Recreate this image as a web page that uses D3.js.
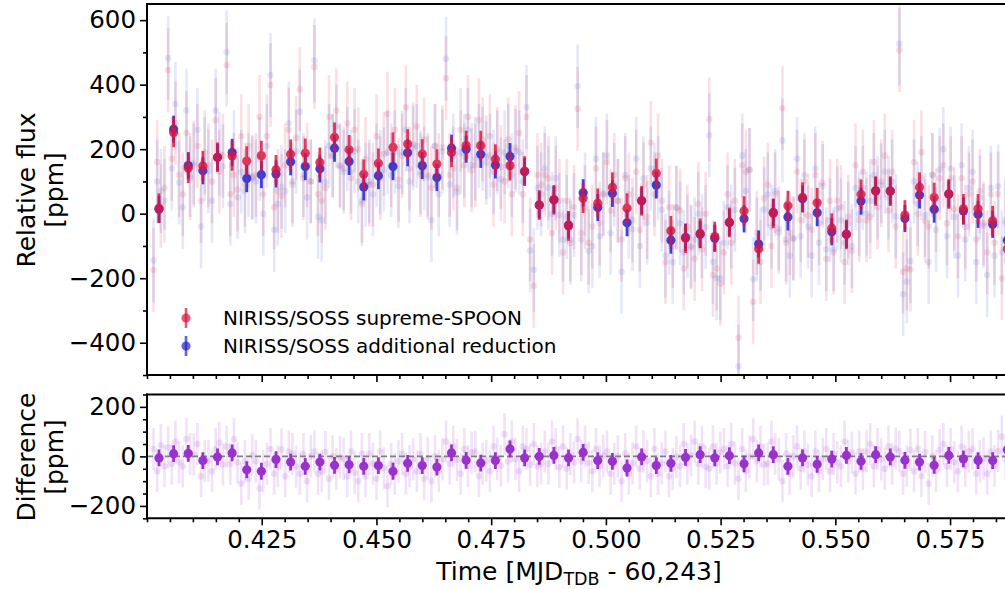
<!DOCTYPE html>
<html>
<head>
<meta charset="utf-8">
<script src="https://cdn.jsdelivr.net/npm/d3@7"></script>
<style>
  html, body { margin: 0; padding: 0; background: #fff; }
  svg { display: block; font-family: "DejaVu Sans", sans-serif; }
</style>
</head>
<body>
<svg id="chart" width="1005" height="589"></svg>
<script>
// time grid of the binned points (days since MJD 60243)
const binStart = 0.402615;
const binStep = 0.0031872;

// binned light curves [ppm]
const redBin = [17, 252, 141, 148, 175, 179, 163, 180, 136, 184, 187, 159, 237, 198, 122, 156, 206, 216, 185, 154,
  190, 211, 211, 169, 149, 132, 27, 43, -38, 48, 32, 82, 17, 40, 125, -53, -76, -61, -71, -27,
  8, -109, 1, 25, 51, 34, -45, -64, 60, 70, 70, -4, 82, 50, 61, 15, 15, -22, -109];
const blueBin = [14, 262, 149, 133, 175, 190, 109, 121, 123, 161, 146, 139, 203, 162, 83, 118, 146, 189, 149, 112,
  203, 200, 184, 151, 177, 130, 27, 43, -35, 65, 19, 63, -28, 40, 89, -82, -74, -64, -76, -27,
  -16, -94, 4, -10, 46, 3, -56, -64, 39, 71, 70, -15, 58, 14, 61, 8, -2, -33, -82];
const diffBin = [-6, 11, 12, -17, -2, 14, -54, -60, -13, -23, -40, -23, -36, -34, -40, -37, -60, -28, -37, -43,
  14, -16, -27, -17, 30, -6, 0, 4, -6, 16, -17, -20, -47, -2, -37, -28, -4, 7, -6, 3,
  -30, 14, 7, -40, -6, -32, -11, 4, -20, 7, -2, -16, -23, -36, 4, -10, -17, -17, 27];

// unbinned points, four per bin [ppm]
const rawRed = [
  [-175, 160, 25, 80], [445, 170, 280, 120], [60, 250, 110, 150], [210, 40, 190, 150], [100, 290, 130, 180],
  [461, 60, 120, 75], [240, 90, 210, 110], [120, 300, 60, 240], [399, 20, 70, 55], [150, 260, 90, 235],
  [386, 110, 150, 100], [455, 60, 40, 80], [300, 180, 320, 150], [140, 280, 110, 260], [200, 30, 170, 90],
  [90, 240, 110, 185], [310, 150, 260, 105], [180, 330, 140, 215], [270, 120, 230, 120], [80, 210, 120, 205],
  [420, 120, 140, 80], [260, 150, 300, 135], [150, 290, 230, 175], [240, 90, 200, 145], [100, 230, 60, 205],
  [250, 60, 300, -80], [-224, 120, 90, 120], [110, -60, 80, 40], [-120, 40, -90, 20], [325, -60, 20, -90],
  [-40, 140, -30, 60], [160, 10, 120, 40], [-80, 110, 60, -20], [130, -50, 90, -10], [220, 60, 180, 40],
  [-150, 20, -100, 20], [10, -170, -40, -105], [-140, 30, -110, 0], [293, -190, -170, -217], [-120, 60, -90, 40],
  [-384, 150, 130, 136], [-273, -60, -150, 47], [90, -100, 60, -46], [327, -90, -60, -77], [130, -20, 100, -6],
  [-50, 120, -30, 96], [-140, 40, -120, 40], [20, -150, -10, -116], [150, -20, 130, -20], [-10, 160, 20, 100],
  [180, 10, 130, -40], [507, -180, -170, -173], [160, 0, 190, -22], [-40, 120, 10, 110], [150, -30, 110, 14],
  [-70, 110, -40, 60], [100, -80, 70, -30], [-120, 60, -90, 62], [-200, -20, -180, -36]
];
const rawDiff = [
  [30, -60, 45, -40], [37, -30, 60, -23], [-40, 70, 10, 8], [50, -80, -20, -18], [-60, 30, 55, -33],
  [40, -30, 70, -24], [-110, -20, -90, 4], [-20, -130, -60, -30], [30, -70, -40, 28], [-80, 20, 10, -42],
  [-70, 10, -100, 0], [20, -70, -60, 18], [-90, 0, -50, -4], [-10, -80, 20, -66], [-100, 10, -80, 10],
  [-30, -90, 20, -48], [-120, -30, -70, -20], [10, -70, -40, -12], [-60, 10, -90, -8], [-100, 0, -60, -12],
  [60, -30, 40, -14], [-70, 30, -40, 16], [20, -80, -30, -18], [-60, 40, -10, -38], [90, -20, 60, -10],
  [-60, 40, 30, -34], [50, -40, -30, 20], [-30, 60, 30, -44], [40, -50, 10, -24], [70, -20, 40, -26],
  [-60, 30, -40, 2], [20, -70, -30, 0], [-100, 10, -70, -28], [40, -50, 20, -18], [-80, 30, -70, -28],
  [20, -80, -50, -2], [-40, 50, -30, 4], [60, -30, 40, -42], [-50, 40, -30, 16], [30, -40, 50, -28],
  [-90, 30, -60, 0], [70, -20, 40, -34], [-30, 60, 10, -12], [-100, 10, -70, 0], [40, -50, 20, -34],
  [-80, 20, -60, -10], [30, -60, 10, -24], [-40, 60, -20, 16], [-70, 20, -50, 20], [50, -40, 30, -12],
  [-50, 40, -30, 32], [20, -70, -40, 26], [-60, 30, -80, 18], [-110, 0, -60, 26], [50, -40, 30, -24],
  [-60, 40, -40, 20], [30, -70, -20, -8], [-70, 20, -40, 22], [80, -10, 60, -22]
];

const binErrRed = 46, binErrBlue = 42, binErrDiff = 34;
const rawErrFlux = 130, rawErrDiff = 85;

const xMajor = [0.425, 0.450, 0.475, 0.500, 0.525, 0.550, 0.575];
const fluxTicks = [-400, -200, 0, 200, 400, 600];
const diffTicks = [-200, 0, 200];

const red = "#dc143c", blue = "#2323cc", purple = "#9932cc";

// flatten into point records
const bins = redBin.map((v, i) => ({
  t: binStart + i * binStep, red: v, blue: blueBin[i], diff: diffBin[i]
}));
const raw = [];
rawRed.forEach((grp, i) => {
  grp.forEach((v, k) => {
    const t = binStart + i * binStep + (k - 1.5) * binStep / 4;
    const d = rawDiff[i][k];
    raw.push({ t: t, red: v, blue: v + d, diff: d });
  });
});

const svg = d3.select("#chart");
const left = 147, right = 1010;

const x = d3.scaleLinear().domain([0.400, 0.58806]).range([left, right]);
const yTop = d3.scaleLinear().domain([-500, 650]).range([375, 4]);
const yBot = d3.scaleLinear().domain([-250, 250]).range([518.3, 394.5]);

const defs = svg.append("defs");
defs.append("clipPath").attr("id", "clipTop")
  .append("rect").attr("x", left).attr("y", 4).attr("width", right - left).attr("height", 371);
defs.append("clipPath").attr("id", "clipBot")
  .append("rect").attr("x", left).attr("y", 394.5).attr("width", right - left).attr("height", 123.8);

function errorbars(g, data, key, y, err, color, opacity, r, sw) {
  const s = g.append("g").attr("opacity", opacity);
  s.selectAll("line").data(data).enter().append("line")
    .attr("x1", d => x(d.t)).attr("x2", d => x(d.t))
    .attr("y1", d => y(d[key] - err)).attr("y2", d => y(d[key] + err))
    .attr("stroke", color).attr("stroke-width", sw);
  s.selectAll("circle").data(data).enter().append("circle")
    .attr("cx", d => x(d.t)).attr("cy", d => y(d[key]))
    .attr("r", r).attr("fill", color);
}

// faint unbinned points drawn with per-mark opacity so overlaps build up
function faint(g, data, key, y, err, color, opacity, r, sw) {
  g.append("g").selectAll("line").data(data).enter().append("line")
    .attr("x1", d => x(d.t)).attr("x2", d => x(d.t))
    .attr("y1", d => y(d[key] - err)).attr("y2", d => y(d[key] + err))
    .attr("stroke", color).attr("stroke-width", sw).attr("stroke-opacity", opacity);
  g.append("g").selectAll("circle").data(data).enter().append("circle")
    .attr("cx", d => x(d.t)).attr("cy", d => y(d[key]))
    .attr("r", r).attr("fill", color).attr("fill-opacity", opacity);
}

// top panel
const topG = svg.append("g").attr("clip-path", "url(#clipTop)");
faint(topG, raw, "red", yTop, rawErrFlux, "#e8405a", 0.17, 3.3, 2.6);
faint(topG, raw, "blue", yTop, rawErrFlux, "#4a62dc", 0.15, 3.3, 2.6);
errorbars(topG, bins, "blue", yTop, binErrBlue, blue, 0.85, 4.6, 2.8);
errorbars(topG, bins, "red", yTop, binErrRed, red, 0.82, 4.6, 2.8);

// bottom panel
const botG = svg.append("g").attr("clip-path", "url(#clipBot)");
faint(botG, raw, "diff", yBot, rawErrDiff, purple, 0.14, 3.3, 2.6);
botG.append("line")
  .attr("x1", left).attr("x2", right)
  .attr("y1", yBot(0)).attr("y2", yBot(0))
  .attr("stroke", "#808080").attr("stroke-width", 1.6).attr("stroke-dasharray", "6,3");
errorbars(botG, bins, "diff", yBot, binErrDiff, purple, 1, 4.6, 2.8);

// axes
const fmtY = d => d < 0 ? "\u2212" + Math.abs(d) : String(d);
const xMinor = d3.range(0.400, 0.5875, 0.005).filter(t => !xMajor.some(m => Math.abs(m - t) < 1e-6));

function styleAxis(g, fontSize) {
  g.select(".domain").remove();
  g.selectAll(".tick line").attr("stroke", "#000").attr("stroke-width", 1.6);
  g.selectAll(".tick text").attr("font-size", fontSize).attr("fill", "#000")
    .attr("font-family", "DejaVu Sans");
}

// top x ticks (no labels)
svg.append("g").attr("transform", "translate(0,375)")
  .call(d3.axisBottom(x).tickValues(xMajor).tickSize(7).tickFormat(""))
  .call(g => styleAxis(g, 24));
svg.append("g").attr("transform", "translate(0,375)")
  .call(d3.axisBottom(x).tickValues(xMinor).tickSize(4).tickFormat(""))
  .call(g => styleAxis(g, 24));

// bottom x axis
svg.append("g").attr("transform", "translate(0,518.3)")
  .call(d3.axisBottom(x).tickValues(xMajor).tickSize(7).tickPadding(5).tickFormat(d3.format(".3f")))
  .call(g => styleAxis(g, 24.5));
svg.append("g").attr("transform", "translate(0,518.3)")
  .call(d3.axisBottom(x).tickValues(xMinor).tickSize(4).tickFormat(""))
  .call(g => styleAxis(g, 24));

// y axes
svg.append("g").attr("transform", `translate(${left},0)`)
  .call(d3.axisLeft(yTop).tickValues(fluxTicks).tickSize(7).tickPadding(4).tickFormat(fmtY))
  .call(g => styleAxis(g, 24.5));
svg.append("g").attr("transform", `translate(${left},0)`)
  .call(d3.axisLeft(yTop).tickValues(d3.range(-500, 651, 100).filter(v => !fluxTicks.includes(v))).tickSize(4).tickFormat(""))
  .call(g => styleAxis(g, 24));
svg.append("g").attr("transform", `translate(${left},0)`)
  .call(d3.axisLeft(yBot).tickValues(diffTicks).tickSize(7).tickPadding(4).tickFormat(fmtY))
  .call(g => styleAxis(g, 24.5));
svg.append("g").attr("transform", `translate(${left},0)`)
  .call(d3.axisLeft(yBot).tickValues(d3.range(-250, 251, 50).filter(v => !diffTicks.includes(v))).tickSize(4).tickFormat(""))
  .call(g => styleAxis(g, 24));

// spines
const spine = (x1, y1, x2, y2) => svg.append("line")
  .attr("x1", x1).attr("y1", y1).attr("x2", x2).attr("y2", y2)
  .attr("stroke", "#000").attr("stroke-width", 2).attr("stroke-linecap", "square");
spine(left, 4, right, 4);
spine(left, 375, right, 375);
spine(left, 4, left, 375);
spine(right, 4, right, 375);
spine(left, 394.5, right, 394.5);
spine(left, 518.3, right, 518.3);
spine(left, 394.5, left, 518.3);
spine(right, 394.5, right, 518.3);

// axis labels
const ylab = (cx, cy, lines) => {
  const t = svg.append("text").attr("transform", `translate(${cx},${cy}) rotate(-90)`)
    .attr("text-anchor", "middle").attr("font-size", 25).attr("fill", "#000");
  lines.forEach((s, i) => t.append("tspan").attr("x", 0).attr("y", i * 28).text(s));
};
ylab(35, 190, ["Relative flux", "[ppm]"]);
ylab(35, 457, ["Difference", "[ppm]"]);

const xl = svg.append("text").attr("x", 579).attr("y", 580)
  .attr("text-anchor", "middle").attr("font-size", 25).attr("fill", "#000");
xl.append("tspan").text("Time [MJD");
xl.append("tspan").attr("font-size", 17.5).attr("dy", 5).text("TDB");
xl.append("tspan").attr("dy", -5).text(" - 60,243]");

// legend
const legend = [
  { label: "NIRISS/SOSS supreme-SPOON", color: red, y: 318 },
  { label: "NIRISS/SOSS additional reduction", color: blue, y: 346 }
];
const lg = svg.append("g");
legend.forEach(l => {
  lg.append("line").attr("x1", 186).attr("x2", 186).attr("y1", l.y - 10).attr("y2", l.y + 10)
    .attr("stroke", l.color).attr("stroke-width", 2.6).attr("opacity", 0.7);
  lg.append("circle").attr("cx", 186).attr("cy", l.y).attr("r", 4.6)
    .attr("fill", l.color).attr("opacity", 0.7);
  lg.append("text").attr("x", 223).attr("y", l.y).attr("dy", "0.36em")
    .attr("font-size", 20).attr("fill", "#000").text(l.label);
});
</script>
</body>
</html>
